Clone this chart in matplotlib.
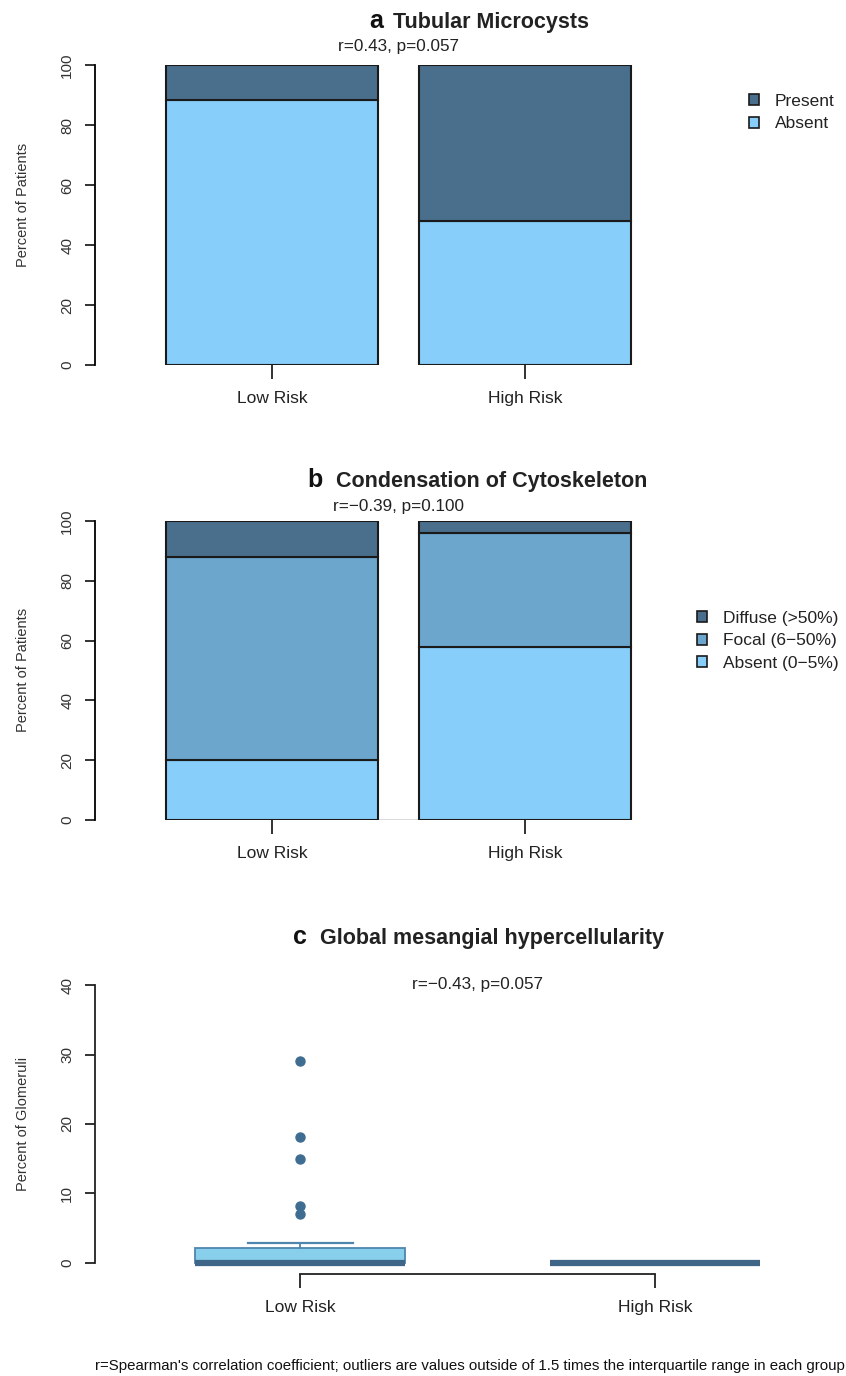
import matplotlib
matplotlib.use("Agg")
import matplotlib.pyplot as plt
from matplotlib.patches import Patch

# ---------------- data ----------------
groups = ["Low Risk", "High Risk"]

# panel a: Tubular Microcysts (% of patients)
a_absent = [88.5, 48.0]
a_present = [11.5, 52.0]
a_stat = "r=0.43, p=0.057"

# panel b: Condensation of Cytoskeleton (% of patients)
b_absent = [20.0, 58.0]
b_focal = [68.0, 38.0]
b_diffuse = [12.0, 4.0]
b_stat = "r=\u22120.39, p=0.100"

# panel c: Global mesangial hypercellularity (% of glomeruli) – box stats
c_q1 = [0.0, 0.0]
c_med = [0.0, 0.0]
c_q3 = [2.2, 0.0]
c_whislo = [0.0, 0.0]
c_whishi = [2.9, 0.0]
c_fliers_low = [29.1, 18.2, 14.9, 8.2, 7.1]
c_fliers_high = []
c_stat = "r=\u22120.43, p=0.057"

footnote = ("r=Spearman's correlation coefficient; outliers are values outside of "
            "1.5 times the interquartile range in each group")

# ---------------- style ----------------
W, H = 846, 1376
DPI = 100
SANS = ["Liberation Sans", "DejaVu Sans"]
plt.rcParams["font.family"] = SANS

c_dark = "#4a6f8c"
c_light = "#87cefa"
c_mid = "#6ca6cd"
edge = "#1a1a1a"
txt_c = "#222222"

fig = plt.figure(figsize=(W / DPI, H / DPI), dpi=DPI)


def axes_px(left, top, right, bottom):
    return fig.add_axes([left / W, 1 - bottom / H, (right - left) / W, (bottom - top) / H])


def style_axes(ax, yticks, xpad):
    ax.set_yticks(yticks)
    ax.tick_params(axis="y", length=7, width=1.3, colors="#222222", pad=8)
    for lab in ax.get_yticklabels():
        lab.set_rotation(90)
        lab.set_va("center")
        lab.set_fontsize(11)
        lab.set_color("#333333")
    ax.tick_params(axis="x", length=10, width=1.3, colors="#222222", pad=xpad)
    for lab in ax.get_xticklabels():
        lab.set_fontsize(12.5)
        lab.set_color(txt_c)


def ylabel(text, ycenter):
    fig.text(23 / W, 1 - ycenter / H, text, rotation=90, ha="center", va="center",
             fontsize=10.5, color="#333333")


def title(letter, text, xl, xt, ybase):
    fig.text(xl / W, 1 - ybase / H, letter, ha="right", va="baseline", fontsize=18,
             fontweight="bold", color="#111111")
    fig.text(xt / W, 1 - ybase / H, text, ha="left", va="baseline", fontsize=15.5,
             fontweight="bold", color="#222222")


def legend(handles, labels, x, ytop):
    fig.legend(handles, labels, loc="upper left", bbox_to_anchor=(x / W, 1 - ytop / H),
               frameon=False, handlelength=0.6, handleheight=0.6, handletextpad=0.9,
               labelspacing=0.42, prop={"size": 12.5}, borderaxespad=0, borderpad=0,
               labelcolor="#222222")


# centres at px 272 and 525 -> 253 px per unit; bar width 212 px
xpos = [0, 1]
bw = 212 / 253
x_left = (95 - 272) / 253
x_right = (700 - 272) / 253

# ---------------- panel a ----------------
axa = axes_px(95, 65, 700, 365)
axa.bar(xpos, a_absent, width=bw, color=c_light, edgecolor=edge, linewidth=1.5)
axa.bar(xpos, a_present, bottom=a_absent, width=bw, color=c_dark, edgecolor=edge, linewidth=1.5)
axa.set_xlim(x_left, x_right)
axa.set_ylim(0, 100)
axa.set_xticks(xpos)
axa.set_xticklabels(groups)
for s in ["top", "right", "bottom"]:
    axa.spines[s].set_visible(False)
axa.spines["left"].set_linewidth(1.3)
style_axes(axa, range(0, 101, 20), 8.5)
ylabel("Percent of Patients", 205)
title("a", "Tubular Microcysts", 383, 393, 28)
fig.text(398 / W, 1 - 46 / H, a_stat, ha="center", va="center", fontsize=12.3, color=txt_c)
legend([Patch(facecolor=c_dark, edgecolor=edge, linewidth=1.2),
        Patch(facecolor=c_light, edgecolor=edge, linewidth=1.2)],
       ["Present", "Absent"], 749, 94)

# ---------------- panel b ----------------
axb = axes_px(95, 521, 700, 820)
axb.bar(xpos, b_absent, width=bw, color=c_light, edgecolor=edge, linewidth=1.5)
axb.bar(xpos, b_focal, bottom=b_absent, width=bw, color=c_mid, edgecolor=edge, linewidth=1.5)
b_base2 = [a + f for a, f in zip(b_absent, b_focal)]
axb.bar(xpos, b_diffuse, bottom=b_base2, width=bw, color=c_dark, edgecolor=edge, linewidth=1.5)
axb.axhline(0, xmin=(bw / 2 - x_left) / (x_right - x_left),
            xmax=(1 - bw / 2 - x_left) / (x_right - x_left), color="#444444", linewidth=1.0)
axb.set_xlim(x_left, x_right)
axb.set_ylim(0, 100)
axb.set_xticks(xpos)
axb.set_xticklabels(groups)
for s in ["top", "right", "bottom"]:
    axb.spines[s].set_visible(False)
axb.spines["left"].set_linewidth(1.3)
style_axes(axb, range(0, 101, 20), 8.5)
ylabel("Percent of Patients", 670)
title("b", "Condensation of Cytoskeleton", 323, 336, 487)
fig.text(398 / W, 1 - 506 / H, b_stat, ha="center", va="center", fontsize=12.3, color=txt_c)
legend([Patch(facecolor=c_dark, edgecolor=edge, linewidth=1.2),
        Patch(facecolor=c_mid, edgecolor=edge, linewidth=1.2),
        Patch(facecolor=c_light, edgecolor=edge, linewidth=1.2)],
       ["Diffuse (>50%)", "Focal (6\u221250%)", "Absent (0\u22125%)"], 697, 611)

# ---------------- panel c ----------------
# centres at px 300 and 655 -> 355 px per unit; box width 210 px
px_u = 355
cx_left = (95 - 300) / px_u
cx_right = (800 - 300) / px_u
axc = axes_px(95, 974, 800, 1274)
stats = []
fl = [c_fliers_low, c_fliers_high]
for i in range(2):
    stats.append(dict(med=c_med[i], q1=c_q1[i], q3=c_q3[i], whislo=c_whislo[i],
                      whishi=c_whishi[i], fliers=fl[i], label=groups[i]))
box_fill = "#87cfeb"
box_edge = "#4f86ad"
axc.bxp(stats, positions=xpos, widths=210 / px_u, patch_artist=True, showfliers=True,
        boxprops=dict(facecolor=box_fill, edgecolor=box_edge, linewidth=1.3),
        medianprops=dict(color="#3f6687", linewidth=4.5, solid_capstyle="butt"),
        whiskerprops=dict(color=box_edge, linewidth=1.3),
        capprops=dict(color=box_edge, linewidth=1.6), capwidths=105 / px_u,
        flierprops=dict(marker="o", markerfacecolor="#3f6d92", markeredgecolor="#3f6d92",
                        markersize=6.5, linestyle="none"))
axc.set_xlim(cx_left, cx_right)
axc.set_ylim(-1.6, 41.6)
for s in ["top", "right"]:
    axc.spines[s].set_visible(False)
axc.spines["left"].set_bounds(0, 40)
axc.spines["bottom"].set_bounds(0, 1)
for s in ["left", "bottom"]:
    axc.spines[s].set_linewidth(1.3)
    axc.spines[s].set_color("#222222")
axc.set_xticks(xpos)
axc.set_xticklabels(groups)
style_axes(axc, range(0, 41, 10), 8.5)
ylabel("Percent of Glomeruli", 1124)
title("c", "Global mesangial hypercellularity", 307, 320, 944)
fig.text(477 / W, 1 - 985 / H, c_stat, ha="center", va="center", fontsize=12.3, color=txt_c)

fig.text(95 / W, 1 - 1366 / H, footnote, ha="left", va="center", fontsize=10.8, color="#111111")

fig.savefig("out.png", dpi=DPI, facecolor="white")
